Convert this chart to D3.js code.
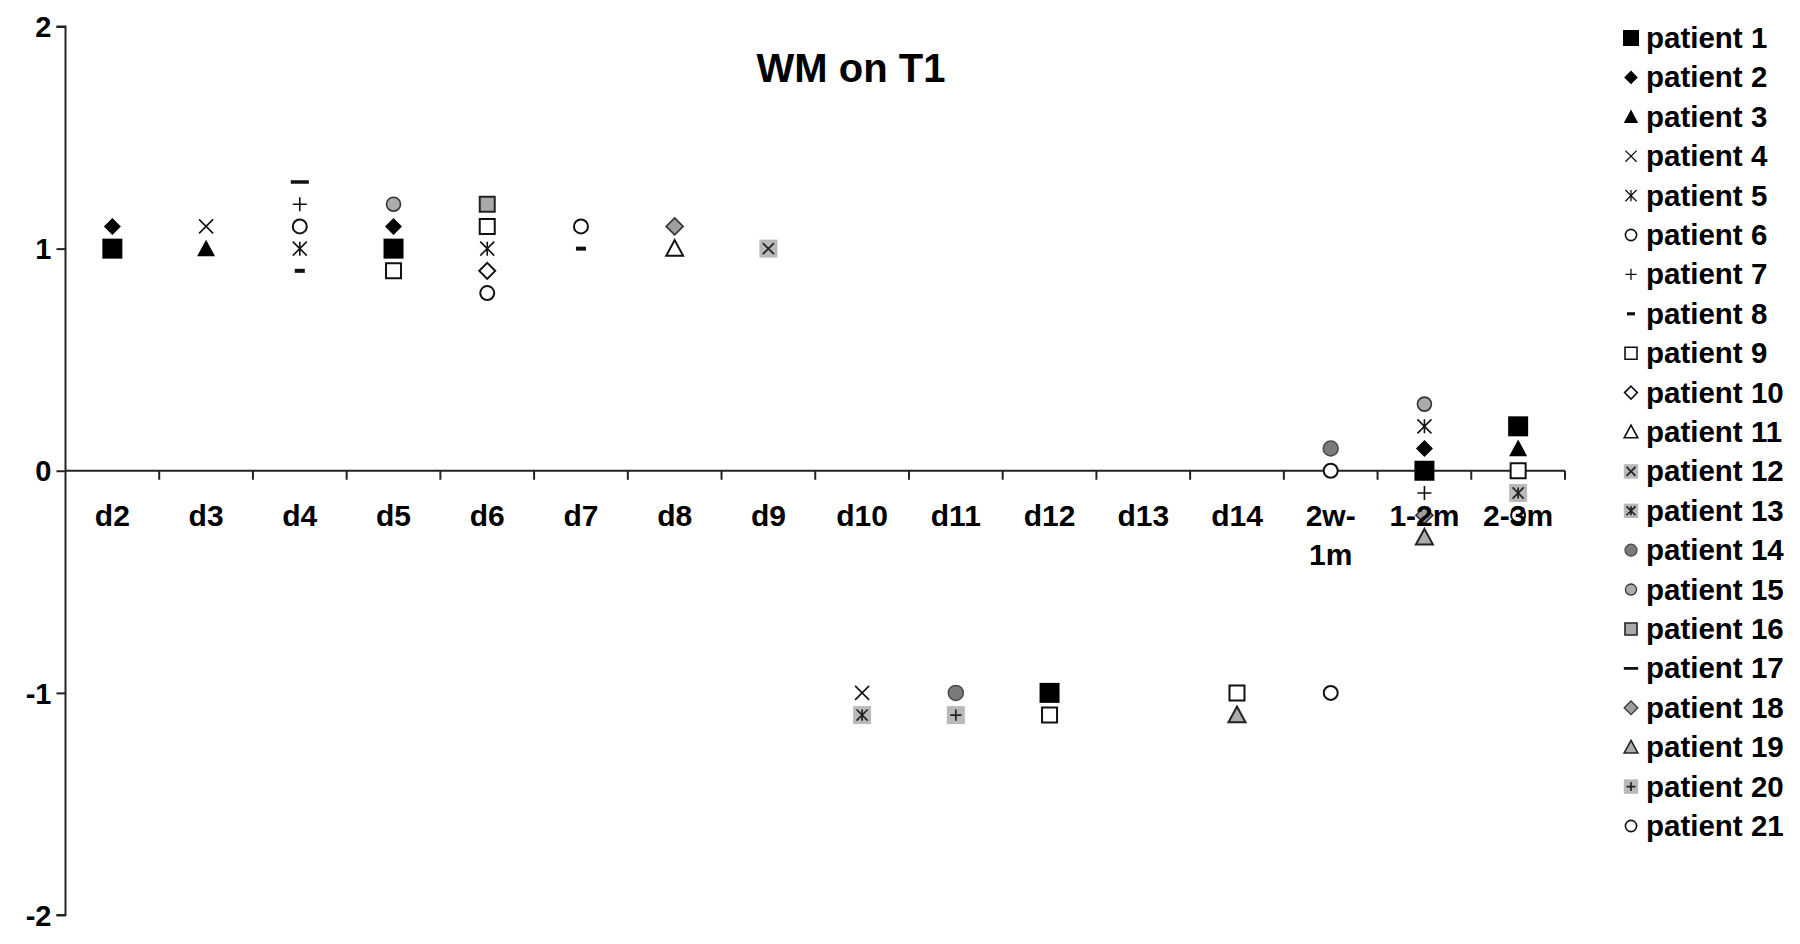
<!DOCTYPE html>
<html>
<head>
<meta charset="utf-8">
<script src="https://cdn.jsdelivr.net/npm/d3@7"></script>
<style>
  html, body { margin: 0; padding: 0; background: #fff; }
  svg { display: block; }
  text { font-family: Arial, "Liberation Sans", Helvetica, sans-serif; font-weight: bold; fill: #000; }
</style>
</head>
<body>
<svg id="chart" width="1800" height="944"></svg>
<script>
// ---------- data ----------
const title = "WM on T1";
const categories = ["d2","d3","d4","d5","d6","d7","d8","d9","d10","d11","d12","d13","d14","2w-1m","1-2m","2-3m"];
const categoryLabels = [["d2"],["d3"],["d4"],["d5"],["d6"],["d7"],["d8"],["d9"],["d10"],["d11"],["d12"],["d13"],["d14"],["2w-","1m"],["1-2m"],["2-3m"]];
const yTicks = [-2, -1, 0, 1, 2];
const yTickLabels = ["-2", "-1", "0", "1", "2"];
const patientNames = ["patient 1","patient 2","patient 3","patient 4","patient 5","patient 6","patient 7",
  "patient 8","patient 9","patient 10","patient 11","patient 12","patient 13","patient 14","patient 15",
  "patient 16","patient 17","patient 18","patient 19","patient 20","patient 21"];
//                   d2   d3   d4   d5   d6   d7   d8   d9   d10  d11  d12  d13  d14  2w-1m 1-2m 2-3m
const patient1  = [ 1.0,null,null, 1.0,null,null,null,null,null,null,-1.0,null,null,null, 0.0, 0.2];
const patient2  = [ 1.1,null,null, 1.1,null,null,null,null,null,null,null,null,null,null, 0.1,null];
const patient3  = [null, 1.0,null,null,null,null,null,null,null,null,null,null,null,null,null, 0.1];
const patient4  = [null, 1.1,null,null,null,null,null,null,-1.0,null,null,null,null,null,null,null];
const patient5  = [null,null, 1.0,null, 1.0,null,null,null,null,null,null,null,null,null, 0.2,null];
const patient6  = [null,null, 1.1,null, 0.8,null,null,null,null,null,null,null,null, 0.0,null,null];
const patient7  = [null,null, 1.2,null,null,null,null,null,null,null,null,null,null,null,-0.1,null];
const patient8  = [null,null, 0.9,null,null, 1.0,null,null,null,null,null,null,null,null,null,null];
const patient9  = [null,null,null, 0.9, 1.1,null,null,null,null,null,-1.1,null,-1.0,null,null, 0.0];
const patient10 = [null,null,null,null, 0.9,null,null,null,null,null,null,null,null,null,null,null];
const patient11 = [null,null,null,null,null,null, 1.0,null,null,null,null,null,null,null,null,null];
const patient12 = [null,null,null,null,null,null,null, 1.0,null,null,null,null,null,null,null,null];
const patient13 = [null,null,null,null,null,null,null,null,-1.1,null,null,null,null,null,null,-0.1];
const patient14 = [null,null,null,null,null,null,null,null,null,-1.0,null,null,null, 0.1,null,null];
const patient15 = [null,null,null, 1.2,null,null,null,null,null,null,null,null,null,null, 0.3,null];
const patient16 = [null,null,null,null, 1.2,null,null,null,null,null,null,null,null,null,null,null];
const patient17 = [null,null, 1.3,null,null,null,null,null,null,null,null,null,null,null,null,null];
const patient18 = [null,null,null,null,null,null, 1.1,null,null,null,null,null,null,null,-0.2,null];
const patient19 = [null,null,null,null,null,null,null,null,null,null,null,null,-1.1,null,-0.3,null];
const patient20 = [null,null,null,null,null,null,null,null,null,-1.1,null,null,null,null,null,null];
const patient21 = [null,null,null,null,null, 1.1,null,null,null,null,null,null,null,-1.0,null,-0.2];
const seriesValues = [patient1,patient2,patient3,patient4,patient5,patient6,patient7,patient8,patient9,
  patient10,patient11,patient12,patient13,patient14,patient15,patient16,patient17,patient18,patient19,
  patient20,patient21];

// ---------- marker styles ----------
const markerStyles = [
  {shape:"square",  r:10,  fill:"#000"},
  {shape:"diamond", r:8.5, fill:"#000"},
  {shape:"triangle",r:9,   fill:"#000"},
  {shape:"times",   r:7,   stroke:"#111", sw:1.6},
  {shape:"asterisk",r:7,   stroke:"#111", sw:1.6},
  {shape:"circle",  r:7,   fill:"#fff", stroke:"#111", sw:2},
  {shape:"plus",    r:7,   stroke:"#111", sw:1.6},
  {shape:"dash",    w:10, h:4, fill:"#111"},
  {shape:"square",  r:7.5, fill:"#fff", stroke:"#111", sw:2},
  {shape:"diamond", r:8,   fill:"#fff", stroke:"#111", sw:2},
  {shape:"triangle",r:8.5, fill:"#fff", stroke:"#111", sw:2},
  {shape:"square",  r:9,   fill:"#b9b9b9", inner:"times"},
  {shape:"square",  r:9,   fill:"#b9b9b9", inner:"asterisk"},
  {shape:"circle",  r:7.5, fill:"#7b7b7b", stroke:"#4a4a4a", sw:1.5},
  {shape:"circle",  r:7,   fill:"#ababab", stroke:"#333", sw:1.6},
  {shape:"square",  r:7.5, fill:"#a9a9a9", stroke:"#222", sw:2},
  {shape:"dash",    w:18, h:3.5, fill:"#111"},
  {shape:"diamond", r:8.5, fill:"#9e9e9e", stroke:"#333", sw:1.6},
  {shape:"triangle",r:8.5, fill:"#adadad", stroke:"#222", sw:2},
  {shape:"square",  r:9,   fill:"#b9b9b9", inner:"plus"},
  {shape:"circle",  r:7,   fill:"#fff", stroke:"#111", sw:2}
];

// ---------- layout ----------
const svg = d3.select("#chart");
const plotLeft = 65.5, plotRight = 1565, plotTop = 26.5, plotBottom = 915;

const x = d3.scaleBand().domain(categories).range([plotLeft, plotRight]).padding(0);
const y = d3.scaleLinear().domain([-2, 2]).range([plotBottom, plotTop]);

// title
svg.append("text").attr("x", 851).attr("y", 82).attr("text-anchor", "middle")
  .style("font-size", "40px").text(title);

// y axis
const yAxis = d3.axisLeft(y).tickValues(yTicks).tickSize(9).tickPadding(5)
  .tickFormat((d, i) => yTickLabels[i]);
const yg = svg.append("g").attr("transform", `translate(${plotLeft},0)`).call(yAxis);
yg.select(".domain").attr("stroke", "#222").attr("stroke-width", 2).attr("d", `M-9,${plotTop}H0V${plotBottom}H-9`);
yg.selectAll(".tick line").attr("stroke", "#222").attr("stroke-width", 2);
yg.selectAll(".tick text").style("font-size", "29px").style("font-family", "Arial, 'Liberation Sans', sans-serif").style("font-weight", "bold").attr("dy", "0.35em");

// x axis line at y=0 with ticks between categories
const xg = svg.append("g");
xg.append("line").attr("x1", plotLeft).attr("x2", plotRight).attr("y1", y(0)).attr("y2", y(0))
  .attr("stroke", "#222").attr("stroke-width", 2);
const boundaries = categories.map(c => x(c) + x.bandwidth());
xg.selectAll("line.tk").data(boundaries).enter().append("line").attr("class", "tk")
  .attr("x1", d => d).attr("x2", d => d).attr("y1", y(0)).attr("y2", y(0) + 9)
  .attr("stroke", "#222").attr("stroke-width", 2);

// marker drawing
function shapePath(shape, r) {
  const p = d3.path();
  if (shape === "square") { p.rect(-r, -r, 2*r, 2*r); }
  else if (shape === "diamond") { p.moveTo(0,-r); p.lineTo(r,0); p.lineTo(0,r); p.lineTo(-r,0); p.closePath(); }
  else if (shape === "triangle") { p.moveTo(0,-r); p.lineTo(r,r*0.85); p.lineTo(-r,r*0.85); p.closePath(); }
  else if (shape === "circle") { p.moveTo(r,0); p.arc(0,0,r,0,2*Math.PI); p.closePath(); }
  else if (shape === "times") { p.moveTo(-r,-r); p.lineTo(r,r); p.moveTo(r,-r); p.lineTo(-r,r); }
  else if (shape === "plus") { p.moveTo(-r,0); p.lineTo(r,0); p.moveTo(0,-r); p.lineTo(0,r); }
  else if (shape === "asterisk") { p.moveTo(-r,-r); p.lineTo(r,r); p.moveTo(r,-r); p.lineTo(-r,r); p.moveTo(0,-r); p.lineTo(0,r); }
  return p.toString();
}
function drawMarker(g, st, s) {
  if (st.shape === "dash") {
    g.append("rect").attr("x", -st.w*s/2).attr("y", -st.h*s/2).attr("width", st.w*s).attr("height", st.h*s)
      .attr("fill", st.fill);
    return;
  }
  const r = st.r * s;
  const strokeOnly = ["times","plus","asterisk"].includes(st.shape);
  g.append("path").attr("d", shapePath(st.shape, r))
    .attr("fill", strokeOnly ? "none" : st.fill)
    .attr("stroke", st.stroke || "none")
    .attr("stroke-width", st.sw ? st.sw * Math.max(s, 0.8) : 0);
  if (st.inner) {
    g.append("path").attr("d", shapePath(st.inner, r*0.62)).attr("fill", "none")
      .attr("stroke", "#222").attr("stroke-width", 1.7);
  }
}

// points
const pointsG = svg.append("g");
seriesValues.forEach((vals, i) => {
  vals.forEach((v, j) => {
    if (v === null) return;
    const g = pointsG.append("g")
      .attr("transform", `translate(${x(categories[j]) + x.bandwidth()/2},${y(v)})`);
    drawMarker(g, markerStyles[i], 1);
  });
});

// x category labels (drawn over markers)
const labG = svg.append("g");
categories.forEach((c, j) => {
  const t = labG.append("text").attr("x", x(c) + x.bandwidth()/2).attr("y", y(0) + 55)
    .attr("text-anchor", "middle").style("font-size", "30px");
  categoryLabels[j].forEach((line, k) => {
    t.append("tspan").attr("x", x(c) + x.bandwidth()/2).attr("dy", k === 0 ? 0 : 39).text(line);
  });
});

// legend
const legend = svg.append("g");
patientNames.forEach((name, i) => {
  const cy = 38 + i * 39.4;
  const g = legend.append("g").attr("transform", `translate(1631,${cy})`);
  drawMarker(g, markerStyles[i], 0.8);
  legend.append("text").attr("x", 1646).attr("y", cy + 10).style("font-size", "29.5px").text(name);
});
</script>
</body>
</html>
